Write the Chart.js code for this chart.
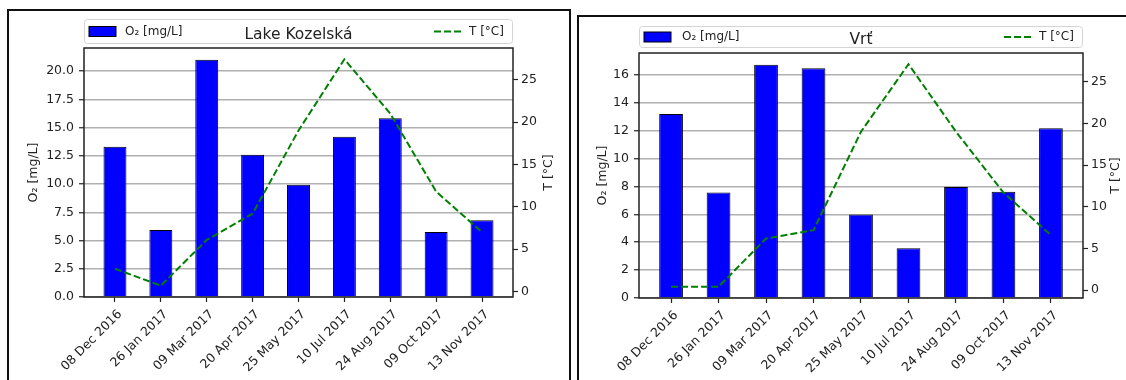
<!DOCTYPE html>
<html><head><meta charset="utf-8">
<script src="https://cdn.jsdelivr.net/npm/chart.js@4"></script>
<style>
html,body{margin:0;padding:0;background:#fff;width:1126px;height:380px;overflow:hidden;}
.frame{position:absolute;border:2px solid #111;box-sizing:border-box;pointer-events:none;}
canvas{position:absolute;top:0;}
</style></head><body>
<div class="frame" style="left:7px;top:9px;width:564px;height:420px"></div>
<div class="frame" style="left:577px;top:15px;width:600px;height:420px"></div>
<canvas id="c1" width="563" height="380" style="left:0"></canvas>
<canvas id="c2" width="563" height="380" style="left:563px"></canvas>
<script>
const categories = ['08 Dec 2016','26 Jan 2017','09 Mar 2017','20 Apr 2017','25 May 2017','10 Jul 2017','24 Aug 2017','09 Oct 2017','13 Nov 2017'];
const kozelskaO2 = [13.3, 5.93, 21.0, 12.6, 9.94, 14.2, 15.84, 5.75, 6.8];
const kozelskaT  = [2.7, 0.7, 6.1, 9.2, 19.0, 27.4, 21.0, 11.8, 7.0];
const vrtO2 = [13.2, 7.57, 16.74, 16.48, 5.99, 3.57, 7.97, 7.62, 12.17];
const vrtT  = [0.4, 0.4, 6.2, 7.2, 19.0, 27.1, 19.0, 11.7, 6.6];
const kozelskaO2Ticks = [0, 2.5, 5, 7.5, 10, 12.5, 15, 17.5, 20];
const vrtO2Ticks = [0, 2, 4, 6, 8, 10, 12, 14, 16];
const tTicks = [0, 5, 10, 15, 20, 25];
const o2Label = 'O\u2082 [mg/L]';
const tLabel = 'T [\u00B0C]';

const FONT = '"DejaVu Sans", sans-serif';
const TXT = '#222';

const panelPlugin = {
  id: 'panel',
  afterDatasetsDraw(chart, args, o) {
    const {ctx, chartArea: a} = chart;
    ctx.save();
    ctx.strokeStyle = '#222'; ctx.lineWidth = 1.5;
    ctx.strokeRect(a.left, a.top, a.right - a.left, a.bottom - a.top);
    ctx.restore();
  },
  afterDraw(chart, args, o) {
    const {ctx, chartArea: a} = chart;
    const bar = chart.data.datasets[0], line = chart.data.datasets[1];
    ctx.save();
    const bx = a.left, bw = a.right - a.left, by = o.legendTop, bh = o.legendHeight;
    ctx.beginPath();
    ctx.roundRect(bx + 0.5, by + 0.5, bw - 1, bh, 3);
    ctx.fillStyle = 'rgba(255,255,255,0.8)'; ctx.fill();
    ctx.strokeStyle = '#d4d4d4'; ctx.lineWidth = 1; ctx.stroke();
    const cy = by + bh / 2 + 0.5;
    ctx.fillStyle = bar.backgroundColor;
    ctx.fillRect(bx + o.patchX, cy - 5, 27, 10);
    ctx.strokeStyle = '#000'; ctx.lineWidth = 1;
    ctx.strokeRect(bx + o.patchX, cy - 5, 27, 10);
    ctx.font = '12px ' + FONT; ctx.fillStyle = TXT;
    ctx.textBaseline = 'middle'; ctx.textAlign = 'left';
    ctx.fillText(bar.label, bx + o.labelX, cy);
    ctx.strokeStyle = line.borderColor; ctx.lineWidth = line.borderWidth;
    ctx.setLineDash(line.borderDash);
    ctx.beginPath();
    ctx.moveTo(a.right - o.lineHandleX, cy); ctx.lineTo(a.right - o.lineHandleX + 29, cy);
    ctx.stroke();
    ctx.setLineDash([]);
    ctx.fillText(line.label, a.right - o.tLabelX, cy);
    ctx.font = '15.5px ' + FONT; ctx.textAlign = 'center';
    ctx.fillText(o.title, (a.left + a.right) / 2, o.titleY);
    ctx.font = '12.5px ' + FONT;
    const my = (a.top + a.bottom) / 2;
    ctx.save(); ctx.translate(o.yTitleX, my); ctx.rotate(-Math.PI / 2);
    ctx.fillText(bar.label, 0, 0); ctx.restore();
    ctx.save(); ctx.translate(o.y1TitleX, my); ctx.rotate(-Math.PI / 2);
    ctx.fillText(line.label, 0, 0); ctx.restore();
    ctx.restore();
  }
};

function makeChart(id, o2, t, o2Ticks, fmt, geo) {
  const n = categories.length;
  const xMin = -0.25 - 0.05 * (n - 1 + 0.5), xMax = n - 1 + 0.25 + 0.05 * (n - 1 + 0.5);
  const yMax = Math.max(...o2) * 1.05;
  const tMin = Math.min(...t), tMax = Math.max(...t), tPad = (tMax - tMin) * 0.05;
  const tickStyle = {color: TXT, font: {family: FONT, size: 12.5}};
  return new Chart(document.getElementById(id), {
    type: 'bar',
    data: {
      datasets: [
        {type: 'bar', label: o2Label, data: o2.map((v, i) => ({x: i, y: v})), backgroundColor: '#0000ff',
         borderColor: '#000', borderWidth: 1, barPercentage: 0.5, categoryPercentage: 1.0, yAxisID: 'y', order: 1},
        {type: 'line', label: tLabel, data: t.map((v, i) => ({x: i, y: v})), borderColor: '#008000',
         borderWidth: 2, borderDash: [7, 3], pointRadius: 0, fill: false, tension: 0, yAxisID: 'y1', order: 0}
      ]
    },
    options: {
      responsive: false, animation: false, events: [],
      layout: {padding: {left: 0, right: 0, top: geo.top, bottom: 0}},
      plugins: {legend: {display: false}, tooltip: {enabled: false}, title: {display: false},
        panel: geo.panel},
      scales: {
        x: {type: 'linear', min: xMin, max: xMax, bounds: 'data', offset: false,
          afterBuildTicks: s => { s.ticks = categories.map((c, i) => ({value: i})); },
          afterFit: s => { s.height = geo.xHeight; },
          ticks: Object.assign({autoSkip: false, minRotation: 45, maxRotation: 45, padding: 5, labelOffset: 5,
            callback: v => categories[v]}, tickStyle),
          grid: {offset: false, drawOnChartArea: false, drawTicks: true, tickLength: 5, tickColor: '#222', tickWidth: 1.2},
          border: {display: false}},
        y: {type: 'linear', position: 'left', min: 0, max: yMax,
          afterBuildTicks: s => { s.ticks = o2Ticks.map(v => ({value: v})); },
          afterFit: s => { s.width = geo.yWidth; },
          ticks: Object.assign({padding: 5, callback: v => fmt(v)}, tickStyle),
          grid: {offset: false, color: '#b0b0b0', lineWidth: 1.5, drawTicks: true, tickLength: 5, tickColor: '#222', tickWidth: 1.2},
          border: {display: false}},
        y1: {type: 'linear', position: 'right', min: tMin - tPad, max: tMax + tPad,
          afterBuildTicks: s => { s.ticks = tTicks.map(v => ({value: v})); },
          afterFit: s => { s.width = geo.y1Width; },
          ticks: Object.assign({padding: 3, callback: v => String(v)}, tickStyle),
          grid: {offset: false, drawOnChartArea: false, drawTicks: true, tickLength: 5, tickColor: '#222', tickWidth: 1.2},
          border: {display: false}}
      }
    },
    plugins: [panelPlugin]
  });
}

makeChart('c1', kozelskaO2, kozelskaT, kozelskaO2Ticks, v => v.toFixed(1), {
  top: 48, xHeight: 83, yWidth: 84, y1Width: 50,
  panel: {title: 'Lake Kozelsk\u00E1', titleY: 35, legendTop: 19, legendHeight: 24,
    patchX: 5, labelX: 41, lineHandleX: 79, tLabelX: 44, yTitleX: 34, y1TitleX: 549}
});
makeChart('c2', vrtO2, vrtT, vrtO2Ticks, v => String(v), {
  top: 53, xHeight: 82, yWidth: 76, y1Width: 43,
  panel: {title: 'Vr\u0165', titleY: 40, legendTop: 26, legendHeight: 21,
    patchX: 5, labelX: 43, lineHandleX: 79, tLabelX: 44, yTitleX: 40, y1TitleX: 553}
});
</script></body></html>
